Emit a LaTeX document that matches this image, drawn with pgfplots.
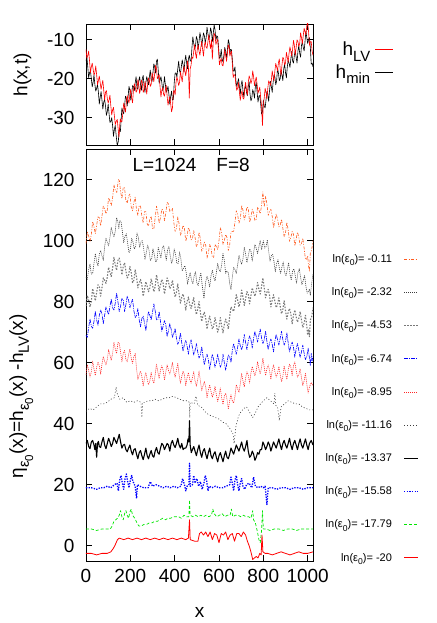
\documentclass[border=0pt]{standalone}
\usepackage{fontspec}
\setmainfont{Liberation Sans}
\usepackage{pgfplots}
\pgfplotsset{compat=1.18}
\makeatletter
\newcommand{\lo}[1]{\raisebox{-0.3em}{\fontsize{\strip@pt\dimexpr0.78\dimexpr\f@size pt\relax\relax}{1}\selectfont #1}}
\makeatother
\definecolor{orng}{RGB}{255,90,30}
\definecolor{dgry}{RGB}{60,60,60}
\definecolor{mgry}{RGB}{120,120,120}
\definecolor{gnu green}{RGB}{0,230,0}
\pgfplotsset{
  gp/.style={
    scale only axis, width=227pt,
    xmin=0, xmax=1024,
    xtick={0,200,...,1000},
    tick align=inside, major tick length=6pt,
    axis line style={line width=0.9pt},
    every tick/.style={black, line width=0.8pt},
    font=\fontsize{19}{22}\selectfont,
    /pgf/number format/assume math mode=true,
    /pgf/number format/1000 sep={},
    yticklabel style={xshift=-8pt},
    xticklabel style={yshift=-5pt},
    legend plot pos=right, legend cell align=right,
    legend image code/.code={\draw[##1] (0pt,0pt) -- (14pt,0pt);},
    every axis plot/.append style={line join=round, no markers},
  },
}
\begin{document}
\begin{tikzpicture}
\path[use as bounding box] (-86pt,-62pt) rectangle (350pt,561pt);

% upper panel: h(x,t)
\begin{axis}[gp, at={(0,416pt)}, anchor=south west, height=121pt,
  ymin=-37, ymax=-6, ytick={-30,-20,-10}, xticklabels={},
  ylabel={h(x,t)},
  every axis y label/.style={at={(axis description cs:-0.28,0.58)}, rotate=90, anchor=center},
  reverse legend,
  legend image code/.code={\draw[#1] (0pt,0pt) -- (18pt,0pt);},
  legend style={draw=none, fill=none, at={(axis description cs:1.37,0.885)}, anchor=north east,
    font=\fontsize{19}{22}\selectfont, row sep=3pt, column sep=3pt},
]
\addplot[draw=black, line width=0.6pt] coordinates {
(0,-15.5)(4,-14.5)(8,-17)(12,-19.8)(16,-18.5)(20,-18)(24,-20)(28,-22.1)(32,-21)(36,-19)
(40,-21.5)(44,-23.2)(48,-22.5)(52,-21.5)(56,-23.5)(60,-26.5)(64,-24.8)(68,-23.3)(72,-25.5)(76,-27.8)
(80,-26)(84,-25.3)(88,-27)(92,-29.4)(96,-28.5)(100,-26.5)(104,-29)(108,-31.2)(112,-31)(116,-30)
(120,-32)(124,-34.8)(128,-33)(132,-32)(136,-34.5)(141,-37.2)(146,-36)(149,-33.3)(152,-33)(155,-33.6)
(158,-31)(162,-27.5)(166,-28.5)(170,-29)(174,-27)(178,-24.5)(182,-25)(186,-27)(190,-24.5)(194,-22)
(198,-23)(202,-25.5)(206,-24)(210,-21.8)(214,-22)(218,-23.1)(222,-21)(226,-19.5)(230,-22.5)(234,-22.7)
(238,-20.5)(242,-19.5)(246,-21.5)(250,-23)(254,-20)(258,-19.2)(262,-22)(266,-23.5)(270,-21)(274,-19.5)
(278,-20.5)(282,-21.6)(286,-19.5)(290,-17.8)(294,-20.5)(298,-20.7)(302,-18.5)(306,-16.2)(310,-17)(314,-18.6)
(318,-15.5)(322,-15)(326,-18)(330,-21.2)(334,-20.5)(338,-19.5)(342,-21)(346,-23.1)(350,-22)(354,-19.5)
(358,-21.5)(362,-23.5)(366,-23)(370,-22)(374,-24)(378,-26.5)(382,-24.5)(386,-23.2)(390,-25.5)(394,-25.3)
(398,-21)(402,-18.6)(406,-18.5)(410,-19.6)(414,-17.5)(418,-15.5)(422,-18)(426,-18.7)(430,-17)(434,-15.2)
(438,-16.5)(442,-18.3)(446,-15.5)(450,-14)(454,-16)(458,-17.5)(462,-15)(466,-14)(470,-15.5)(474,-15.4)
(478,-12)(482,-9.3)(486,-11)(490,-12.5)(494,-11.5)(498,-9.2)(502,-10)(506,-12.5)(510,-10.5)(514,-8.2)
(518,-9.5)(522,-11.7)(526,-10)(530,-8.3)(534,-9)(538,-10.9)(542,-9.5)(546,-6.8)(550,-8.5)(554,-10)
(558,-9)(562,-7)(566,-8)(570,-10.5)(574,-8.5)(578,-6.2)(582,-7.5)(586,-10.2)(590,-9)(594,-9.3)
(598,-12)(602,-14.8)(606,-14.5)(610,-12.5)(614,-15)(618,-15.7)(622,-14)(626,-12)(630,-13)(634,-15)
(638,-12.5)(642,-10)(646,-11)(649,-13.7)(652,-12.5)(656,-12.6)(660,-15)(664,-18.1)(668,-18)(672,-17)
(676,-20.5)(680,-22)(684,-21)(688,-20)(692,-22)(696,-24)(700,-21.5)(704,-20.5)(708,-23)(712,-24.7)
(716,-22.5)(720,-21.8)(724,-23.5)(728,-24.4)(732,-22)(736,-20.8)(740,-24)(744,-25.7)(748,-25)(752,-22.8)
(756,-23.5)(760,-25)(764,-22)(768,-21)(772,-23.5)(776,-26)(780,-24.5)(784,-24.3)(788,-26.5)(792,-29.1)
(796,-28.5)(800,-25.5)(804,-27)(808,-27.5)(812,-25.5)(816,-23.3)(820,-24)(824,-25.8)(828,-23)(832,-20.7)
(836,-22)(840,-23.5)(844,-21)(848,-19.1)(852,-19.5)(856,-21.6)(860,-20.5)(864,-17.3)(868,-18.5)(872,-20.5)
(876,-20)(880,-18)(884,-19)(888,-20.5)(892,-17.5)(896,-16.2)(900,-18.5)(904,-19.8)(908,-17)(912,-15.3)
(916,-16)(920,-17.1)(924,-15)(928,-13)(932,-15.5)(936,-16)(940,-14)(944,-12.8)(948,-14.5)(952,-16)
(956,-13)(960,-11.5)(964,-13.5)(968,-14.5)(972,-11.5)(976,-10.5)(980,-12)(984,-12.9)(988,-10.5)(992,-7.8)
(996,-9.5)(1000,-11)(1004,-10)(1008,-9.5)(1012,-12)(1016,-16.3)(1020,-16)(1024,-17)
};
\addlegendentry{h\lo{min}}
\addplot[draw=red, line width=0.6pt] coordinates {
(0,-12.5)(4,-14.75)(8,-14)(12,-12.95)(16,-15.5)(20,-18.45)(24,-17)(28,-16.05)(32,-17.5)(36,-19)
(40,-18.5)(44,-16.75)(48,-19)(52,-21.55)(56,-20.5)(60,-19.35)(64,-21)(68,-22.75)(72,-21.5)(76,-20.45)
(80,-23)(84,-25.45)(88,-23.5)(92,-23.05)(96,-25)(100,-26.25)(104,-25.5)(108,-24.25)(112,-27)(116,-29.3)
(120,-28)(124,-27.35)(128,-29.5)(132,-31.75)(136,-31)(141,-30.45)(146,-33.5)(149,-34.95)(152,-32)(155,-30.3)
(158,-31)(162,-31)(166,-29)(170,-26.25)(174,-27.5)(178,-28.55)(182,-26)(186,-24.35)(190,-25.5)(194,-26.25)
(198,-24)(202,-22.7)(206,-25)(210,-26.2)(214,-23)(218,-21.3)(222,-22)(226,-23.5)(230,-23)(234,-20.25)
(238,-21.5)(242,-23.8)(246,-22.5)(250,-20.35)(254,-21)(258,-23.5)(262,-23)(266,-20.7)(270,-22)(274,-23.95)
(278,-21.5)(282,-19.8)(286,-20.5)(290,-22)(294,-21.5)(298,-18.5)(302,-19.5)(306,-20.8)(310,-18.5)(314,-16.6)
(318,-17.5)(322,-20)(326,-19.5)(330,-18.95)(334,-22)(338,-24.7)(342,-23)(346,-22.3)(350,-24)(354,-24.5)
(358,-23)(362,-21.75)(366,-24.5)(370,-26.8)(374,-25.5)(378,-24.6)(382,-26.5)(386,-28.5)(390,-27.5)(394,-23.45)
(398,-23)(402,-24.2)(406,-21)(410,-19.55)(414,-20.5)(418,-21.75)(422,-21)(426,-18.25)(430,-19.5)(434,-20.8)
(438,-18.5)(442,-16.85)(446,-18)(450,-19.25)(454,-17.5)(458,-15.45)(462,-17)(466,-25)(470,-17.5)(474,-16.5)
(478,-14.5)(482,-14.8)(486,-13)(490,-11.25)(494,-13.5)(498,-14.8)(502,-12.5)(506,-11.35)(510,-13)(514,-14)
(518,-12)(522,-10.45)(526,-12.5)(530,-14.2)(534,-11.5)(538,-10.55)(542,-12)(546,-12.25)(550,-10.5)(554,-8.75)
(558,-11)(562,-12.3)(566,-10)(570,-15)(574,-10.5)(578,-8.35)(582,-9)(586,-11.25)(590,-10.5)(594,-9.95)
(598,-13)(602,-16.45)(606,-15.5)(610,-14.8)(614,-16.5)(618,-16.75)(622,-15)(626,-12.5)(630,-14)(634,-15.55)
(638,-13.5)(642,-11.35)(646,-12)(649,-14.25)(652,-13.5)(656,-12.95)(660,-16)(664,-19.7)(668,-19)(672,-19.05)
(676,-21.5)(680,-23)(684,-22.5)(688,-21)(692,-23.5)(696,-25.55)(700,-24)(704,-23.1)(708,-25)(712,-25.25)
(716,-22.5)(720,-20.95)(724,-23)(728,-24.2)(732,-21)(736,-19.3)(740,-20)(744,-21.25)(748,-20.5)(752,-18)
(756,-19.5)(760,-21.8)(764,-20.5)(768,-19.6)(772,-21.5)(776,-23.75)(780,-23)(784,-22.2)(788,-25)(792,-27)
(796,-32)(800,-26.5)(804,-25)(808,-22.45)(812,-23.5)(816,-25.2)(820,-22.5)(824,-20.55)(828,-21)(832,-21.75)
(836,-20.5)(840,-18)(844,-19.5)(848,-20.55)(852,-18)(856,-16.1)(860,-17)(864,-18)(868,-16)(872,-14.95)
(876,-17.5)(880,-19.2)(884,-16.5)(888,-14.55)(892,-15)(896,-16.5)(900,-16)(904,-13.25)(908,-14.5)(912,-15.8)
(916,-13.5)(920,-11.85)(924,-13)(928,-14.25)(932,-12.5)(936,-10.2)(940,-11.5)(944,-13.95)(948,-12)(952,-10.05)
(956,-10.5)(960,-11.75)(964,-11)(968,-8.25)(972,-9.5)(976,-11.05)(980,-9)(984,-7.1)(988,-8)(992,-8.75)
(996,-6.5)(1000,-5.45)(1004,-8)(1008,-11.45)(1012,-10.5)(1016,-10.55)(1020,-13)(1024,-14)
};
\addlegendentry{h\lo{LV}}
\end{axis}

% lower panel: eta
\begin{axis}[gp, at={(0,0)}, anchor=south west, height=412pt,
  ymin=-5, ymax=130, ytick={0,20,...,120},
  xlabel={x},
  every axis x label/.style={at={(axis description cs:0.5,-0.126)}, anchor=center},
  ylabel={η\lo{ε\lo{0}}(x)=h\lo{ε\lo{0}}(x) -h\lo{LV}(x)},
  every axis y label/.style={at={(axis description cs:-0.285,0.40)}, rotate=90, anchor=center},
  legend style={draw=none, fill=none, at={(axis description cs:1.48,0.754)}, anchor=north east,
    font=\fontsize{11}{13}\selectfont, row sep=19.7pt, column sep=9.5pt},
]
\node[font=\fontsize{19}{22}\selectfont] at (axis description cs:0.463,0.961) {L=1024\hspace{20pt}F=8};

\addplot[draw=orng, line width=0.6pt, dash pattern=on 3pt off 1.5pt on 1pt off 1.5pt] coordinates {
(0,99)(6,102.75)(12,101.5)(18,99.75)(24,102)(30,106.25)(36,104.5)(42,102.25)(48,105)(54,107.75)
(60,107.5)(66,104.75)(72,108)(78,111.25)(84,110.5)(90,108.75)(96,110)(102,114)(108,113)(114,111.5)
(120,114)(126,118.25)(132,116.5)(139,115.75)(146,120)(151,119.5)(156,116)(162,113.75)(168,117.5)(174,117.25)
(180,113)(186,112.25)(192,114.5)(198,115.25)(204,111)(210,109.75)(216,112.5)(222,114.25)(228,110)(234,108.25)
(240,111.5)(246,111.25)(252,108)(258,105.75)(264,109.5)(270,109.5)(276,105.5)(282,104.75)(288,107)(294,108)
(300,104)(306,103.75)(312,107.5)(318,111.25)(324,109)(330,105.75)(336,107.5)(342,110.25)(348,110)(354,106.5)
(360,109)(366,112.5)(372,112)(378,109.5)(384,110)(390,110.5)(396,106)(402,103)(408,104)(414,107.75)
(420,105.5)(426,101.75)(432,103)(438,105)(444,104)(450,99.75)(456,101.5)(462,104.25)(468,103)(474,100.25)
(480,100.5)(486,103.25)(492,101)(498,98)(504,99)(510,102.75)(516,100.5)(522,96.5)(528,97.5)(534,99.5)
(540,98.5)(546,94.25)(552,96)(558,98.75)(564,97.5)(570,94.5)(576,94.5)(582,98.75)(588,98)(594,97)
(600,100)(606,104.25)(612,102.5)(618,98.75)(624,100)(630,102)(636,101)(642,96.75)(648,98.5)(654,102.75)
(660,103)(666,103)(672,106)(678,109.75)(684,108.5)(690,105.75)(696,107)(702,111.5)(708,110)(714,106.75)
(720,108.5)(726,111)(732,110.5)(738,106)(744,107.5)(750,110.25)(756,109)(762,106.5)(768,107)(774,111)
(780,110)(786,108.75)(792,111.5)(798,116)(804,111)(810,114.5)(816,112)(822,108.25)(828,109.5)(834,110.25)
(840,108)(846,104.25)(852,106.5)(858,108.75)(864,107)(870,104.5)(876,105)(882,107)(888,104)(894,101.25)
(900,102.5)(906,106)(912,103.5)(918,99.75)(924,101)(930,103)(936,102)(942,98.25)(948,100.5)(954,102.75)
(960,101)(966,98.5)(972,99)(978,100.75)(984,97.5)(990,93.75)(996,94)(1000,95)(1004,91.5)(1008,90)
(1012,96)(1018,97)(1024,100)
};
\addlegendentry{ln(ε\lo{0})= -0.11}
\addplot[draw=dgry, line width=0.6pt, dash pattern=on 1pt off 1pt] coordinates {
(0,88)(6,87.25)(12,90.5)(18,92.25)(24,89)(30,89.25)(36,92.5)(42,95.75)(48,93)(54,91.75)
(60,95.5)(66,96.75)(72,95)(78,93.5)(84,98)(90,100.75)(96,99.5)(102,98.25)(108,101)(114,104.25)
(120,102.5)(126,101.25)(132,103)(138,107.5)(144,106)(148,103.75)(152,106.5)(158,106.25)(164,103)(170,99.25)
(176,101.5)(182,102.25)(188,99)(194,96)(200,97)(206,100.75)(212,99.5)(218,97.25)(224,98)(230,102.5)
(236,101)(242,97.75)(248,99.5)(254,100)(260,97.5)(266,93.75)(272,96)(278,98.5)(284,97)(290,93.5)
(296,94)(302,97.25)(308,95.5)(314,93)(320,93.5)(326,97.75)(332,96)(338,94.25)(344,97.5)(350,98.25)
(356,96)(362,93.5)(368,97)(374,98)(380,95)(386,92.5)(392,94)(398,97.25)(404,95.5)(410,92.5)
(416,92.5)(422,96.25)(428,94)(434,90)(440,91)(446,91.75)(452,89.5)(458,85.75)(464,88)(470,89.5)
(476,87)(482,85.75)(488,88.5)(494,89.75)(500,86)(506,85.25)(512,87.5)(518,89.5)(524,85.5)(532,81)
(540,86.5)(546,88.25)(552,87)(558,84.75)(564,88.5)(570,90.25)(576,88)(582,86.75)(588,89.5)(594,92.5)
(600,90.5)(606,89.75)(612,92)(618,95.75)(624,93.5)(630,89.25)(636,90)(642,89.5)(648,86)(654,84)
(660,88)(666,91.25)(672,90.5)(678,89.25)(684,92)(690,95.25)(696,93.5)(702,92.25)(708,94)(714,97.75)
(720,95.5)(726,92.75)(732,95)(738,97.25)(744,96.5)(750,93.25)(756,96)(762,98.75)(768,97.5)(774,95.75)
(780,98)(786,100)(792,97)(800,100)(806,97.5)(812,98)(818,100.25)(824,96.5)(830,93.25)(836,95)
(842,95.5)(848,93)(854,89.75)(860,92.5)(866,93.75)(872,91)(878,89.25)(884,91.5)(890,93)(896,89.5)
(902,88.5)(908,90.5)(914,92.75)(920,89)(926,87)(932,90)(938,90.75)(944,88.5)(950,86)(956,89.5)
(962,90.75)(968,88)(974,85.5)(980,87)(986,88.5)(992,85)(998,82.75)(1004,83.5)(1008,84)(1012,82)
(1018,86)(1024,89)
};
\addlegendentry{ln(ε\lo{0})= -2.32}
\addplot[draw=mgry, line width=1.1pt, dash pattern=on 1.5pt off 1.5pt] coordinates {
(0,78.5)(6,82)(12,80.5)(18,78.25)(24,80)(30,84.25)(36,82.5)(42,80.25)(48,83)(54,85.5)
(60,85)(66,81.75)(72,84.5)(78,87.75)(84,87)(90,86)(96,88)(102,91.25)(108,89.5)(114,88.25)
(120,91)(126,94.5)(132,92)(138,90.25)(144,93.5)(150,94.25)(156,92)(162,88.75)(168,91.5)(174,92.75)
(180,90)(186,87.75)(192,88.5)(198,91.5)(204,89.5)(210,86.25)(216,87)(222,90.5)(228,88)(234,84.5)
(240,86)(246,87.25)(252,85.5)(258,81.75)(264,84)(270,86.5)(276,85)(282,83.25)(288,84.5)(294,87.5)
(300,85.5)(306,83.25)(312,85)(318,88.75)(324,86.5)(330,83.5)(336,85.5)(342,87.25)(348,86)(354,82.5)
(360,85)(366,87.75)(372,86.5)(378,84.25)(384,85)(390,87)(396,84)(402,81.5)(408,83)(414,85.75)
(420,82.5)(426,79.5)(432,81.5)(438,82.5)(444,80.5)(450,77.25)(456,80)(462,81.5)(468,79)(474,77.75)
(480,79.5)(486,81.25)(492,78)(498,75.75)(504,77.5)(510,80)(516,76.5)(522,73.5)(528,75.5)(534,76.5)
(540,74.5)(546,71)(552,73.5)(558,75.25)(564,73)(570,71)(576,72)(582,74.75)(588,72.5)(594,70)
(600,71.5)(606,74.75)(612,72)(618,69.75)(624,72.5)(630,74.25)(636,73)(642,71)(648,75)(654,78.25)
(660,77.5)(666,76.75)(672,79)(678,82.25)(684,80.5)(690,78.25)(696,80)(702,83.75)(708,81.5)(714,78.75)
(720,81)(726,83.25)(732,82.5)(738,79.25)(744,82)(750,84.5)(756,83)(762,81.75)(768,83.5)(774,86.25)
(780,84)(786,82.5)(792,85)(798,87.75)(804,84.5)(810,81.25)(816,83)(822,84)(828,82)(834,78.25)
(840,80.5)(846,82.25)(852,80)(858,78)(864,79)(870,81.25)(876,78.5)(882,76)(888,77.5)(894,80.25)
(900,77)(906,74.25)(912,76.5)(918,77.75)(924,76)(930,72.75)(936,75.5)(942,77.25)(948,75)(954,73.25)
(960,74.5)(966,76.75)(972,74)(978,71.5)(984,73)(990,75.5)(996,72)(1000,69)(1004,71)(1008,68.5)
(1012,74)(1018,75)(1024,78)
};
\addlegendentry{ln(ε\lo{0})= -4.53}
\addplot[draw=blue, line width=0.6pt, dash pattern=on 4pt off 1pt on 1pt off 1pt] coordinates {
(0,69)(6,68.25)(12,71.5)(18,74.25)(24,72)(30,71.25)(36,73.5)(42,76.75)(48,74)(54,72.25)
(60,75.5)(66,77.25)(72,76)(78,72.75)(84,75.5)(90,78.25)(96,77)(102,75.75)(108,78.5)(114,80.75)
(120,78)(126,77.25)(132,79.5)(138,82.75)(144,80)(150,76.75)(156,78.5)(162,81)(168,80.5)(174,76.75)
(180,79)(186,81.75)(192,80.5)(198,78)(204,79.5)(210,80.75)(216,77)(222,74.75)(228,75.5)(234,77.75)
(240,74)(246,71.75)(252,74.5)(258,75.25)(264,73)(270,70.5)(276,74)(282,76.75)(288,75.5)(294,74)
(300,76.5)(306,79.25)(312,77)(318,74)(324,74)(330,76.75)(336,73.5)(342,70.25)(348,72)(354,73.75)
(360,72.5)(366,68.5)(372,70.5)(378,72.75)(384,71)(390,68.25)(396,69.5)(402,71.25)(408,68)(414,66)
(420,67)(426,69.75)(432,66.5)(438,63.75)(444,66)(450,67.25)(456,65.5)(462,62.75)(468,66)(474,67.5)
(480,65)(486,62.5)(492,64)(498,66.25)(504,63.5)(510,61.5)(516,62.5)(522,65.25)(528,62)(534,59.25)
(540,61.5)(546,62.75)(552,61)(558,57.75)(564,60.5)(570,62.75)(576,61)(582,58.5)(588,60)(594,62.75)
(600,60.5)(606,58.5)(612,59.5)(618,62.75)(624,60)(630,57.5)(636,60)(642,62.5)(648,62)(654,60)
(660,64)(666,66.25)(672,64.5)(678,62.75)(684,65)(690,67.75)(696,65.5)(702,64.25)(708,66)(714,69.25)
(720,66.5)(726,64.25)(732,67)(738,68.75)(744,67.5)(750,64.75)(756,68)(762,70.25)(768,68.5)(774,66.75)
(780,69)(786,71)(792,68)(798,66.25)(804,67.5)(810,70.25)(816,67)(822,64.25)(828,66.5)(834,67.75)
(840,66)(846,63.5)(852,67)(858,69.25)(864,67.5)(870,65.75)(876,68)(882,70.25)(888,67.5)(894,65.75)
(900,67)(906,69.75)(912,66.5)(918,63.5)(924,65.5)(930,66.75)(936,65)(942,61.75)(948,64.5)(954,66.25)
(960,64)(966,61.75)(972,63.5)(978,65.75)(984,63)(990,61)(996,62)(1002,64.75)(1008,61.5)(1012,59)
(1016,63)(1020,60.5)(1024,62)
};
\addlegendentry{ln(ε\lo{0})= -6.74}
\addplot[draw=red!85, line width=0.6pt, dash pattern=on 1pt off 1pt] coordinates {
(0,56)(6,59.25)(12,57.5)(18,55.25)(24,57)(30,60.5)(36,58)(42,55.75)(48,58.5)(54,60.25)
(60,59)(66,56.25)(72,59.5)(78,62)(84,60.5)(90,59.25)(96,61)(102,64.25)(108,62.5)(114,60.75)
(120,63)(126,66.75)(132,64.5)(138,63)(144,66.5)(150,66.5)(156,63.5)(162,60.25)(168,63)(174,64)
(180,61)(186,60.25)(192,62.5)(198,64.5)(204,61.5)(210,59.75)(216,62)(222,63)(228,58)(234,54.5)
(240,56)(246,57.25)(252,55.5)(258,52.25)(264,55)(270,56.75)(276,54.5)(282,52.75)(288,54)(294,56.75)
(300,54.5)(306,53.25)(312,56)(318,59.5)(324,57)(330,54.75)(336,57.5)(342,59)(348,57.5)(354,54.25)
(360,57)(366,59.25)(372,57.5)(378,56.25)(384,58)(390,60)(396,57)(402,55.25)(408,57.5)(414,59.75)
(420,56)(426,53.25)(432,55.5)(438,57.25)(444,56)(450,52.5)(456,55)(462,56.75)(468,54.5)(474,53.25)
(480,55)(486,57)(492,54)(498,52.25)(504,54.5)(510,57.25)(516,54)(522,50.75)(528,52.5)(534,53.75)
(540,52)(546,48.5)(552,51)(558,52.75)(564,50.5)(570,48.75)(576,50)(582,52.25)(588,49.5)(594,47.25)
(600,49)(606,51.75)(612,48.5)(618,46.25)(624,49)(630,50)(636,48)(642,44.75)(648,47.5)(654,49.5)
(660,47.5)(666,46.75)(672,49)(678,52.75)(684,51.5)(690,50.25)(696,53)(702,56.5)(708,54)(714,52)
(720,55)(726,57)(732,56)(738,53.25)(744,56.5)(750,58.75)(756,57)(762,55.75)(768,57.5)(774,60.25)
(780,58)(786,56.25)(792,58.5)(798,61.5)(804,58.5)(810,55.75)(816,58)(822,59.25)(828,57.5)(834,54.5)
(840,57.5)(846,59.25)(852,57)(858,55.25)(864,56.5)(870,58.75)(876,56)(882,53.75)(888,55.5)(894,59)
(900,56.5)(906,54.5)(912,57.5)(918,59.5)(924,58.5)(930,55.75)(936,59)(942,60.25)(948,57.5)(954,55.25)
(960,56)(966,58)(972,55)(978,52.5)(984,54)(990,56.5)(996,53)(1002,50)(1008,52)(1016,53.5)(1024,52.5)
};
\addlegendentry{ln(ε\lo{0})= -8.95}
\addplot[draw=dgry, line width=0.6pt, dash pattern=on 1pt off 2pt] coordinates {
(0,44)(16,45)(32,44.5)(48,45.5)(64,46.5)(80,46.5)(96,47)(112,48)(128,48.5)(136,52)(140,50)
(152,48)(168,48.5)(184,47)(200,47.5)(216,47)(232,47.5)(248,47)(252,42)(256,47)(264,47)(280,47.5)(296,47.5)
(312,48)(328,47.5)(344,48)(360,48.5)(376,48.5)(392,49)(408,48.5)(424,48)(440,47.5)(456,47.5)
(466,47)(468,42)(470,47)(488,46.5)(496,49)(504,46)(520,45.5)(536,44)(552,43)(568,42.5)(584,42)
(600,41.5)(616,40.5)(632,40)(648,38.5)(664,36.5)(668,33.5)(676,39)(688,42.5)(700,44)(712,45)
(724,45.5)(736,44)(752,42)(764,43.5)(776,45.5)(788,46.5)(800,47.5)(816,48.5)(832,47.5)(848,46.5)(852,50)(856,46)
(864,45.5)(872,41)(880,45.5)(896,46.5)(912,47.5)(928,47)(944,46.5)(960,46.5)(976,45.5)(992,45)(1008,44.5)
(1024,44.5)
};
\addlegendentry{ln(ε\lo{0})= -11.16}
\addplot[draw=black, line width=1.1pt] coordinates {
(0,33.5)(6,34.5)(12,32.5)(18,31.8)(24,34)(30,34.5)(36,33)(40,31.5)(44,33.5)(48,29)
(52,33.5)(56,34.2)(60,32.5)(66,32.2)(72,34)(78,35.5)(84,33)(90,31.8)(96,33.5)(102,35.2)
(108,34)(114,32.5)(120,33.5)(126,35.5)(132,34.5)(138,33.5)(144,35)(150,36.5)(156,34)(162,32)
(168,33)(174,33.2)(180,31.5)(186,30.8)(192,32)(198,33)(204,31)(210,29.8)(216,31.5)(222,31.8)
(228,30)(234,28.5)(240,30.5)(246,31.2)(252,29.5)(258,28.2)(264,30)(270,32)(276,29.5)(282,28.5)
(288,30)(294,31.2)(300,29.5)(306,29)(312,31)(318,32.2)(324,30.5)(330,30)(336,32)(342,33.5)
(348,33)(354,31.5)(360,32.5)(366,33.5)(372,33)(378,31)(384,33.5)(390,34.5)(396,33)(402,32.2)
(408,33.5)(414,35.2)(420,33)(426,32)(432,33.5)(438,31.5)(444,32)(450,32)(456,33)(460,35)
(464,34)(467,41)(470,33)(475,30.5)(480,31.5)(486,32.5)(492,31)(498,29.5)(504,31.5)(510,33)
(516,30.5)(522,29)(528,31)(534,31.8)(540,30)(546,28.5)(552,30.5)(558,32)(564,29.5)(570,28.5)
(576,30)(582,30.8)(588,29)(594,27.5)(600,29.5)(606,30.5)(612,29)(618,27.5)(624,29.5)(630,31)
(636,29)(642,28.5)(648,30)(654,32)(660,31)(666,30)(672,31.5)(678,33)(684,32)(690,31)
(696,32.5)(702,34)(708,32)(714,31)(720,32.5)(726,34.5)(732,31)(738,29)(744,29.5)(750,31)
(756,30)(762,28)(768,29)(774,30.5)(780,30)(786,31.5)(792,31.5)(798,34)(804,33)(810,31.5)
(816,32.5)(822,34)(828,33)(834,31)(840,32.5)(846,34)(852,33)(858,32)(864,33.5)(870,35)
(876,33)(882,31.5)(888,33.5)(894,34.5)(900,33)(906,32)(912,33.5)(918,35.2)(924,33)(930,31.5)
(936,33.5)(942,34.5)(948,33)(954,31.5)(960,33.5)(966,35)(972,33)(978,32)(984,33.5)(990,35)
(996,33)(1002,31.5)(1008,33.5)(1016,34.5)(1024,33)
};
\addlegendentry{ln(ε\lo{0})= -13.37}
\addplot[draw=blue, line width=1.3pt, dash pattern=on 1.3pt off 1.3pt] coordinates {
(0,19)(24,19)(48,18.5)(64,19)(80,19)(96,19.5)(112,19)(128,20)(140,20.5)(146,18)(152,21.5)
(158,23)(164,20.5)(170,18.5)(176,22)(182,23.5)(188,21)(194,19)(200,21.5)(206,23)(212,21)(222,19.5)(228,15.5)(232,20)(244,19.5)(260,19)
(280,19)(290,21)(300,19.5)(316,20)(332,19.5)(348,19)(364,19.5)(380,19)(396,19.5)(412,19)(428,19.5)(436,22)
(444,20)(450,18)(456,19.5)(464,20)(467,27)(470,19.5)(480,20)(486,23)(492,20.5)(500,22)(508,19.5)(516,21)
(524,18.5)(532,20.5)(538,23)(544,21.5)(550,18)(556,19.5)(568,19)(584,19.5)(600,19)(616,19)(632,19.5)(648,20)
(654,22.5)(660,20.5)(666,18)(672,21.5)(678,23)(684,20)(690,18)(696,20.5)(702,22)(708,19.5)(716,18.5)(724,20)(736,20.5)(748,19)(756,22.5)
(764,19.5)(776,19)(788,19.5)(800,19)(808,19.5)(816,13.5)(822,19)(840,19)(860,18.5)(880,19)
(900,19)(920,18.5)(940,19)(960,19)(980,18.5)(1000,19)(1024,19)
};
\addlegendentry{ln(ε\lo{0})= -15.58}
\addplot[draw=gnu green, line width=0.7pt, dash pattern=on 3pt off 2pt] coordinates {
(0,5.5)(24,5.5)(48,5)(72,5.5)(96,5.5)(110,5.5)(118,6.5)(126,8)(134,8.5)(142,9)
(150,10)(156,11.5)(162,9.5)(168,8.5)(174,10.5)(180,11.5)(186,10)(192,9)(198,11)(204,12)(210,10)(220,9)(230,7.5)(238,6.5)(250,6.5)
(262,7)(274,7)(286,7.5)(298,7.5)(310,8)(322,8)(334,8.5)(346,9)(358,8.5)(370,9)
(382,9)(394,9.5)(406,9.5)(418,9.5)(430,9)(442,10)(454,9.5)(464,9.5)(467,15)(470,10)
(482,9.5)(494,10)(506,9.5)(518,10)(530,9.5)(542,10)(554,9.5)(566,10)(572,12)(578,10.5)(590,9.5)
(602,10)(614,10.5)(626,9.5)(638,10)(650,10)(656,12)(662,9.5)(674,10)(686,10)(698,9.5)(710,10)
(722,9.5)(734,9.5)(744,9)(752,11.5)(756,8.5)(764,7.5)(772,5)(780,2)(786,1)(792,5)
(796,11.5)(800,5.5)(812,5.5)(830,5)(850,5.5)(870,5.5)(890,5)(910,5.5)(930,5.5)(950,5)
(970,5.5)(990,5.5)(1010,5.5)(1024,5.5)
};
\addlegendentry{ln(ε\lo{0})= -17.79}
\addplot[draw=red, line width=0.8pt] coordinates {
(0,-2.5)(24,-2.5)(48,-3)(72,-2.5)(96,-2.5)(112,-2)(122,-1)(130,0)(136,1)(142,2)
(150,2.5)(170,2)(190,2.5)(210,2)(230,2.5)(250,2)(270,2.5)(290,2)(310,2.5)(330,2)
(350,2.5)(370,2)(390,2.5)(410,2)(430,2.5)(450,2)(462,2.5)(467,8.5)(470,2)(490,1.5)
(505,1.5)(512,4)(520,4.5)(530,3.5)(540,4.5)(550,3)(560,4.5)(570,2)(580,4)(590,3.5)
(600,1)(610,4)(620,3.5)(630,4.5)(640,2)(650,3.5)(660,4)(670,1.5)(680,4)(690,4)
(700,3)(710,4.5)(720,3.5)(728,1.5)(736,0)(744,-2)(752,-4.5)(760,-4)(768,-3.5)(776,-4)
(784,-2.5)(790,-3)(794,3.5)(798,-2)(808,-2.5)(820,-2.5)(840,-3)(860,-2.5)(880,-2)(900,-2.5)
(920,-3)(940,-2.5)(960,-2)(980,-2.5)(1000,-2.5)(1024,-2)
};
\addlegendentry{ln(ε\lo{0})= -20}
\end{axis}
\end{tikzpicture}
\end{document}
